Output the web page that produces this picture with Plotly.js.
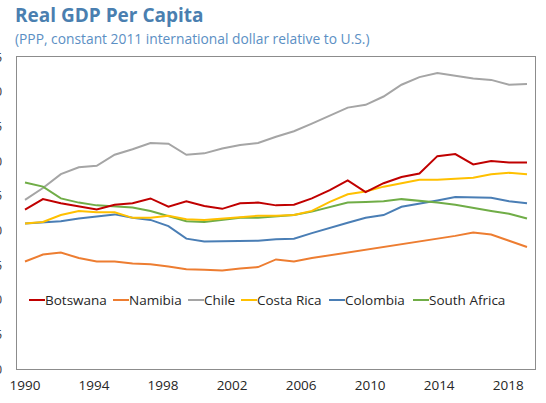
<!DOCTYPE html>
<html>
<head>
<meta charset="utf-8">
<script src="https://cdn.plot.ly/plotly-3.0.1.min.js"></script>
<style>
html,body{margin:0;padding:0;background:#fff;}
#chart{width:546px;height:403px;}
</style>
</head>
<body>
<div id="chart"></div>
<script>
// ---- Data ----
const years = [1990,1991,1992,1993,1994,1995,1996,1997,1998,1999,2000,2001,2002,2003,2004,2005,2006,2007,2008,2009,2010,2011,2012,2013,2014,2015,2016,2017,2018];

const botswana   = [0.230,0.245,0.239,0.234,0.230,0.237,0.239,0.246,0.234,0.242,0.235,0.231,0.239,0.240,0.236,0.237,0.246,0.258,0.272,0.255,0.268,0.277,0.282,0.307,0.310,0.295,0.300,0.298,0.298];
const namibia    = [0.155,0.165,0.168,0.160,0.155,0.155,0.152,0.151,0.148,0.144,0.143,0.142,0.145,0.147,0.158,0.155,0.160,0.164,0.168,0.171,0.175,0.180,0.183,0.188,0.192,0.197,0.194,0.185,0.176];
const chile      = [0.244,0.261,0.281,0.291,0.293,0.309,0.317,0.326,0.325,0.309,0.311,0.318,0.323,0.326,0.335,0.343,0.354,0.365,0.377,0.381,0.393,0.410,0.421,0.427,0.423,0.419,0.417,0.410,0.411];
const costaRica  = [0.210,0.212,0.222,0.228,0.226,0.226,0.218,0.218,0.221,0.216,0.215,0.217,0.220,0.221,0.221,0.222,0.228,0.241,0.252,0.256,0.263,0.268,0.273,0.273,0.274,0.276,0.281,0.283,0.281];
const colombia   = [0.210,0.212,0.213,0.217,0.220,0.223,0.218,0.215,0.206,0.188,0.184,0.184,0.184,0.185,0.187,0.188,0.196,0.204,0.211,0.218,0.222,0.234,0.238,0.243,0.248,0.248,0.247,0.242,0.239];
const southAfrica= [0.269,0.263,0.246,0.240,0.236,0.234,0.233,0.228,0.220,0.213,0.212,0.215,0.218,0.218,0.220,0.222,0.227,0.234,0.240,0.241,0.242,0.245,0.243,0.240,0.237,0.232,0.228,0.224,0.217];

const seriesNames = ["Botswana","Namibia","Chile","Costa Rica","Colombia","South Africa"];
const seriesData  = [botswana, namibia, chile, costaRica, colombia, southAfrica];
const tickYears   = [1990,1994,1998,2002,2006,2010,2014,2018];
const yTicks      = [0,0.05,0.10,0.15,0.20,0.25,0.30,0.35,0.40,0.45];

// ---- Styles ----
const colors = ["#c00000","#ed7d31","#a5a5a5","#ffc000","#4a7eb5","#70ad47"];
const drawOrder = [2,4,5,3,1,0];

const traces = drawOrder.map(i => ({
  type: "scatter",
  mode: "lines",
  x: years,
  y: seriesData[i],
  name: seriesNames[i],
  line: {color: colors[i], width: 2},
  showlegend: false,
  hoverinfo: "skip"
}));

// plot area in pixels: left 17, right 535
const W = 546, plotL = 17, plotR = 535;
const toPaper = px => (px - plotL) / (plotR - plotL);
const legendStartPx = [29, 113, 188, 241, 329, 413];
const dashLen = 16;
const legendY = 0.0995;

const shapes = [];
const annotations = [
  {text: "<b>Real GDP Per Capita</b>", xref: "paper", yref: "paper", x: toPaper(13), y: 1, yshift: 42,
   xanchor: "left", yanchor: "middle", showarrow: false,
   font: {family: "Open Sans, sans-serif", size: 19, color: "#4a7fb0"}},
  {text: "(PPP, constant 2011 international dollar relative to U.S.)", xref: "paper", yref: "paper", x: toPaper(13), y: 1, yshift: 19,
   xanchor: "left", yanchor: "middle", showarrow: false,
   font: {family: "Open Sans, sans-serif", size: 13.8, color: "#5b8fc4"}}
];
seriesNames.forEach((n, i) => {
  const x0 = legendStartPx[i];
  shapes.push({type: "line", xref: "paper", yref: "y", x0: toPaper(x0), x1: toPaper(x0 + dashLen),
    y0: legendY, y1: legendY, line: {color: colors[i], width: 2}});
  annotations.push({text: n, xref: "paper", yref: "y", x: toPaper(x0 + dashLen), y: legendY,
    xanchor: "left", yanchor: "middle", showarrow: false, xshift: -2,
    font: {family: "Open Sans, sans-serif", size: 13.5, color: "#262626"}});
});

// label positions as drawn in the reference (slightly compressed under the data)
const labelStep = 0.9625;
const tickPos = tickYears.map(y => years[0] + (y - years[0]) * labelStep);

const layout = {
  width: W, height: 403,
  margin: {l: plotL, r: W - plotR, t: 57, b: 34, pad: 0},
  paper_bgcolor: "#ffffff",
  plot_bgcolor: "#ffffff",
  showlegend: false,
  xaxis: {
    range: [1989.554, 2018.446],
    tickvals: tickPos,
    ticktext: tickYears.map(String),
    showgrid: false, zeroline: false,
    showline: true, mirror: true, linecolor: "#8c8c8c", linewidth: 1.2,
    ticks: "", ticklabelstandoff: 4,
    tickfont: {family: "Open Sans, sans-serif", size: 13.5, color: "#262626"}
  },
  yaxis: {
    range: [0, 0.45],
    tickvals: yTicks,
    tickformat: ".2f",
    showgrid: false, zeroline: false,
    showline: true, mirror: true, linecolor: "#8c8c8c", linewidth: 1.2,
    ticks: "", ticklabelstandoff: 11,
    tickfont: {family: "Open Sans, sans-serif", size: 13, color: "#404040"}
  },
  shapes: shapes,
  annotations: annotations
};

Plotly.newPlot("chart", traces, layout, {staticPlot: true, displayModeBar: false});
</script>
</body>
</html>
